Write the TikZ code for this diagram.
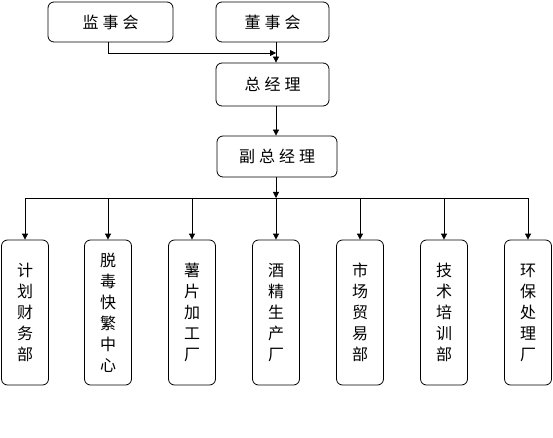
\documentclass[tikz,border=0pt]{standalone}
\usepackage{fontspec}
\setmainfont{Noto Sans CJK SC}
\usetikzlibrary{arrows.meta}
\begin{document}
\begin{tikzpicture}[x=1pt,y=-1pt,
  box/.style={draw,rounded corners=6pt,line width=0.8pt,inner sep=0pt,font=\fontsize{16}{18}\selectfont},
  vbox/.style={draw,rounded corners=6pt,line width=0.8pt,inner sep=0pt,minimum width=47pt,minimum height=145pt,
     align=center,font=\fontsize{16}{21}\selectfont},
  conn/.style={line width=0.8pt,-{Triangle[length=6pt,width=6pt]}},
  plain/.style={line width=0.8pt}]
\useasboundingbox (0,0) rectangle (553,438);
\node[box,minimum width=125pt,minimum height=40pt] (jsh) at (110.5,22) {监\hspace{4pt}事\hspace{4pt}会};
\node[box,minimum width=113pt,minimum height=40pt] (dsh) at (272.5,22) {董\hspace{4pt}事\hspace{4pt}会};
\node[box,minimum width=113pt,minimum height=43pt] (zjl) at (272.5,84.5) {总\hspace{4pt}经\hspace{4pt}理};
\node[box,minimum width=120pt,minimum height=41pt] (fzjl) at (277,156.5) {副\hspace{4pt}总\hspace{4pt}经\hspace{4pt}理};
\coordinate (sp) at (276,0);
\coordinate (jm) at (108,53);
\coordinate (bus) at (276,198);
\node[vbox] (b1) at (25,312.5) {计\\划\\财\\务\\部};
\node[vbox] (b2) at (108,312.5) {脱\\毒\\快\\繁\\中\\心};
\node[vbox] (b3) at (192,312.5) {薯\\片\\加\\工\\厂};
\node[vbox] (b4) at (276,312.5) {酒\\精\\生\\产\\厂};
\node[vbox] (b5) at (360,312.5) {市\\场\\贸\\易\\部};
\node[vbox] (b6) at (444,312.5) {技\\术\\培\\训\\部};
\node[vbox] (b7) at (528,312.5) {环\\保\\处\\理\\厂};
\draw[plain] (jsh.south -| jm) -- (jm);
\draw[conn] (jm) -- (jm -| sp);
\draw[conn] (dsh.south -| sp) -- (zjl.north -| sp);
\draw[conn] (zjl.south -| sp) -- (fzjl.north -| sp);
\draw[conn] (fzjl.south -| sp) -- (bus);
\draw[plain] (bus -| b1) -- (bus -| b7);
\foreach \b in {b1,b2,b3,b4,b5,b6,b7}
  \draw[conn] (bus -| \b) -- (\b.north);
\end{tikzpicture}
\end{document}
